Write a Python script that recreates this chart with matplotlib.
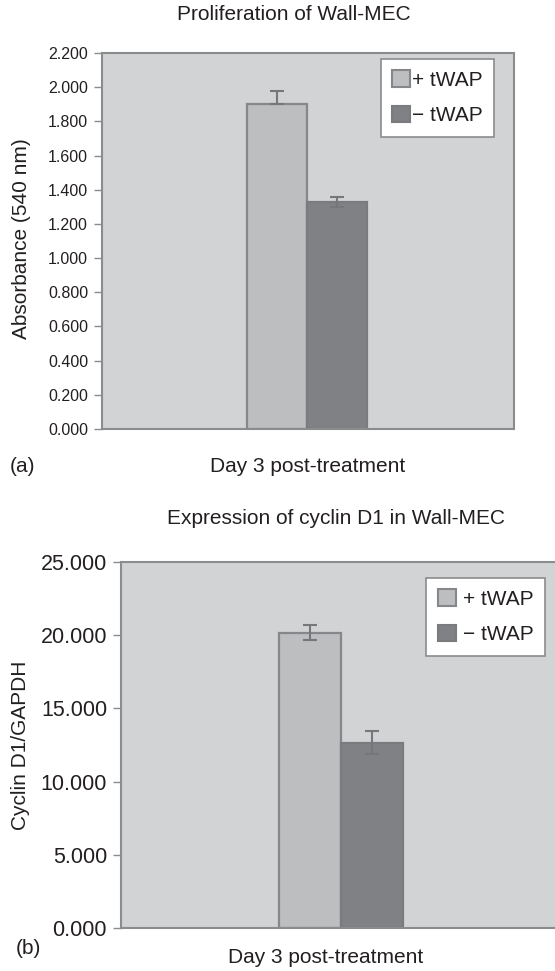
import matplotlib
matplotlib.use('Agg')
from matplotlib import pyplot as plt
from matplotlib.patches import Patch
from matplotlib.ticker import FormatStrFormatter

plt.rcParams['font.family'] = ['Liberation Sans', 'DejaVu Sans']

# shared labels
series = ['+ tWAP', '\u2212 tWAP']
category = 'Day 3 post-treatment'

# (a) proliferation, absorbance at 540 nm
prolif_values = [1.902, 1.330]
prolif_err_low = [0.0, 0.030]
prolif_err_high = [0.075, 0.030]
prolif_ticks = [0.0, 0.2, 0.4, 0.6, 0.8, 1.0, 1.2, 1.4, 1.6, 1.8, 2.0, 2.2]

# (b) cyclin D1 / GAPDH
cyclin_values = [20.17, 12.66]
cyclin_err_low = [0.51, 0.77]
cyclin_err_high = [0.51, 0.77]
cyclin_ticks = [0, 5, 10, 15, 20, 25]

BG = '#d2d3d5'
FILLS = ['#bdbec0', '#808184']
EDGES = ['#86878a', '#7a7b7e']
FRAME = '#8b8c8e'
ERR = '#76777a'
TEXT = '#231f20'
W = 555
H = 971


def draw_panel(rect, values, err_low, err_high, ticks, ylabel, tick_size,
               xlim, legend_anchor, textpad):
    """Draws one Excel-style bar panel on a figure-positioned axes."""
    ax = fig.add_axes(rect)
    ax.set_facecolor(BG)
    width = 0.3
    offsets = [-width / 2, width / 2]
    for i in range(len(values)):
        ax.bar(offsets[i], values[i], width=width, color=FILLS[i], edgecolor=EDGES[i],
               linewidth=1.6, zorder=2)
        ax.errorbar(offsets[i], values[i], yerr=[[err_low[i]], [err_high[i]]], fmt='none',
                    ecolor=ERR, elinewidth=1.5, capsize=5, capthick=1.5, zorder=3)
    ax.set_xlim(*xlim)
    ax.set_ylim(ticks[0], ticks[-1])
    ax.set_yticks(ticks)
    ax.yaxis.set_major_formatter(FormatStrFormatter('%.3f'))
    ax.set_xticks([])
    ax.tick_params(axis='y', direction='out', length=6, width=1, color=FRAME,
                   labelsize=tick_size, labelcolor=TEXT, pad=4)
    for s in ax.spines.values():
        s.set_color(FRAME)
        s.set_linewidth(1.5)
    ax.set_ylabel(ylabel, fontsize=15, color=TEXT)
    handles = [Patch(facecolor=FILLS[i], edgecolor=EDGES[i], linewidth=1.5) for i in range(2)]
    leg = fig.legend(handles, series, loc='upper right', bbox_to_anchor=legend_anchor,
                     bbox_transform=fig.transFigure, fontsize=15, frameon=True, fancybox=False,
                     edgecolor=FRAME, framealpha=1, borderaxespad=0, handlelength=0.85,
                     handleheight=0.85, handletextpad=textpad, labelspacing=0.75,
                     borderpad=0.55)
    leg.get_frame().set_linewidth(1.2)
    for t in leg.get_texts():
        t.set_color(TEXT)
    return ax


fig = plt.figure(figsize=(W / 100, H / 100), dpi=100)

ax_a = draw_panel([102 / W, 1 - 429 / H, 412 / W, 376 / H], prolif_values, prolif_err_low,
                  prolif_err_high, prolif_ticks, 'Absorbance (540 nm)', 11.5,
                  (-1.025, 1.035), (494 / W, 1 - 59 / H), 0.1)
ax_a.yaxis.set_label_coords(-0.172, 0.505)
fig.text(294 / W, 1 - 15 / H, 'Proliferation of Wall-MEC', ha='center', va='center',
         fontsize=15, color=TEXT)
fig.text(308 / W, 1 - 466 / H, category, ha='center', va='center', fontsize=15, color=TEXT)
fig.text(10 / W, 1 - 466 / H, '(a)', ha='left', va='center', fontsize=15, color=TEXT)

ax_b = draw_panel([121 / W, 1 - 928 / H, 460 / W, 366 / H], cyclin_values, cyclin_err_low,
                  cyclin_err_high, cyclin_ticks, 'Cyclin D1/GAPDH', 15.5,
                  (-1.062, 1.16), (545 / W, 1 - 578 / H), 0.35)
ax_b.yaxis.set_label_coords(-0.198, 0.50)
fig.text(336 / W, 1 - 518 / H, 'Expression of cyclin D1 in Wall-MEC', ha='center',
         va='center', fontsize=15, color=TEXT)
fig.text(326 / W, 1 - 957 / H, category, ha='center', va='center', fontsize=15, color=TEXT)
fig.text(16 / W, 1 - 948 / H, '(b)', ha='left', va='center', fontsize=15, color=TEXT)

fig.savefig('out.png', dpi=100)
